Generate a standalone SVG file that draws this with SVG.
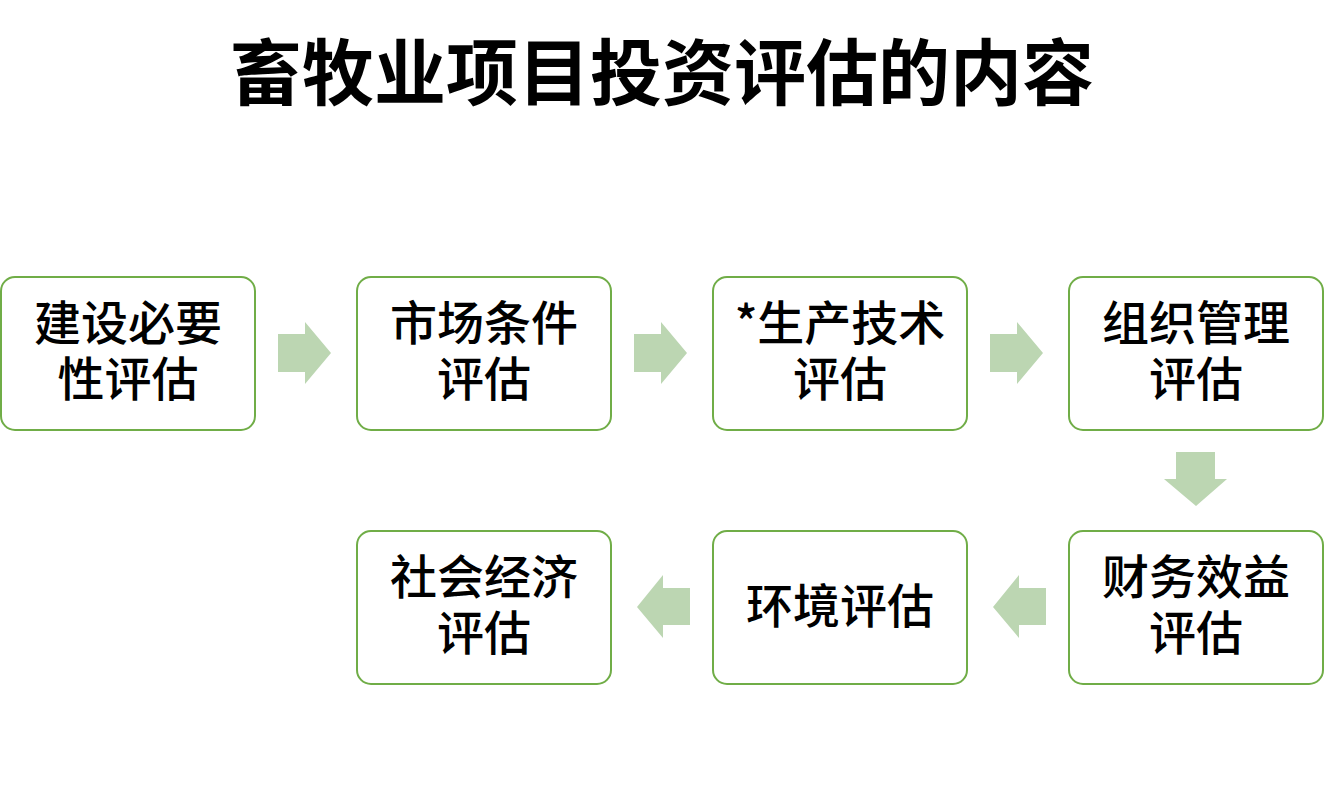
<svg xmlns="http://www.w3.org/2000/svg" width="1324" height="802" viewBox="0 0 1324 802">
<style>
.box{fill:#ffffff;stroke:#70AD47;stroke-width:2}
.t{font-family:"Noto Sans CJK SC","Noto Sans",sans-serif;font-size:47px;font-weight:500;fill:#000;text-anchor:middle}
.title{font-family:"Noto Sans CJK SC","Noto Sans",sans-serif;font-size:72px;font-weight:bold;fill:#000;text-anchor:middle}
.arr{fill:#BCD6B2}
</style>
<rect width="1324" height="802" fill="#ffffff"/>
<text class="title" x="662" y="99">畜牧业项目投资评估的内容</text>
<g id="connectors">
<polygon class="arr" points="278,334 305,334 305,322 331,353 305,384 305,372 278,372"/>
<polygon class="arr" points="634,334 661,334 661,322 687,353 661,384 661,372 634,372"/>
<polygon class="arr" points="990,334 1017,334 1017,322 1043,353 1017,384 1017,372 990,372"/>
<polygon class="arr" points="1176,452 1215,452 1215,479 1227,479 1196,506 1164,479 1176,479"/>
<polygon class="arr" points="1046,588 1019,588 1019,575 993,607 1019,638 1019,625 1046,625"/>
<polygon class="arr" points="690,588 663,588 663,575 637,607 663,638 663,625 690,625"/>
</g>
<g id="n1"><rect class="box" x="1" y="277" width="254" height="153" rx="14"/><text class="t" x="128" y="340">建设必要</text><text class="t" x="128" y="396">性评估</text></g>
<g id="n2"><rect class="box" x="357" y="277" width="254" height="153" rx="14"/><text class="t" x="484" y="340">市场条件</text><text class="t" x="484" y="396">评估</text></g>
<g id="n3"><rect class="box" x="713" y="277" width="254" height="153" rx="14"/><text class="t" x="840" y="340">*生产技术</text><text class="t" x="840" y="396">评估</text></g>
<g id="n4"><rect class="box" x="1069" y="277" width="254" height="153" rx="14"/><text class="t" x="1196" y="340">组织管理</text><text class="t" x="1196" y="396">评估</text></g>
<g id="n5"><rect class="box" x="1069" y="531" width="254" height="153" rx="14"/><text class="t" x="1196" y="594">财务效益</text><text class="t" x="1196" y="650">评估</text></g>
<g id="n6"><rect class="box" x="713" y="531" width="254" height="153" rx="14"/><text class="t" x="840" y="623">环境评估</text></g>
<g id="n7"><rect class="box" x="357" y="531" width="254" height="153" rx="14"/><text class="t" x="484" y="594">社会经济</text><text class="t" x="484" y="650">评估</text></g>
</svg>
